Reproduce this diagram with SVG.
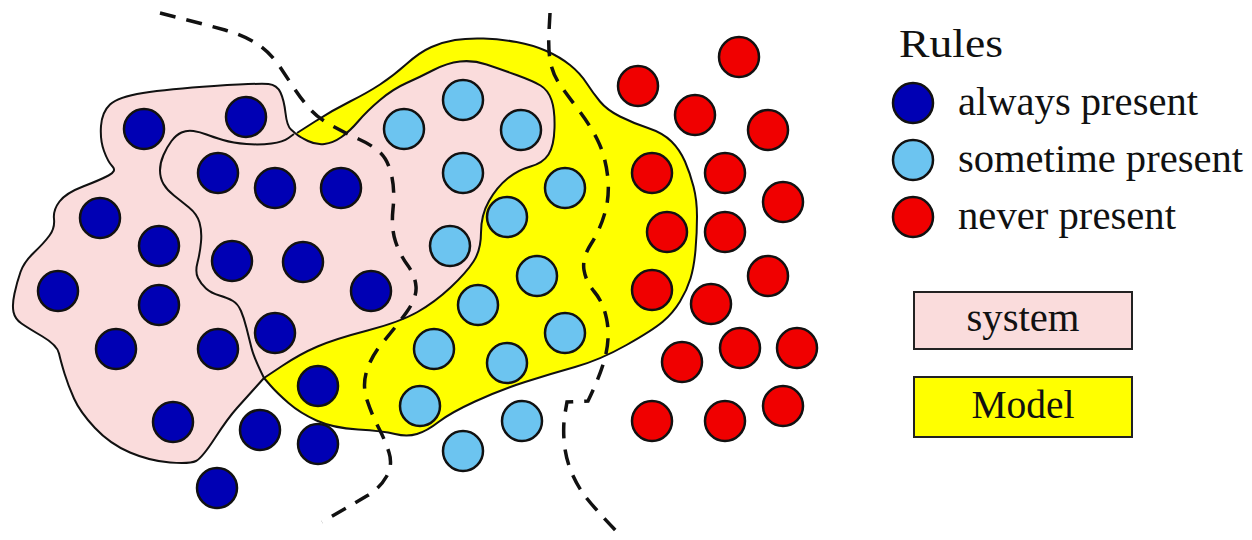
<svg xmlns="http://www.w3.org/2000/svg" width="1252" height="540" viewBox="0 0 1252 540">
<style>
.pink{fill:#fadcdc;stroke:#111;stroke-width:2;stroke-linejoin:round}
.line{fill:none;stroke:#111;stroke-width:2;stroke-linejoin:round}
.yel{fill:#ffff00;stroke:none}
.dash{fill:none;stroke:#111;stroke-width:3.5;stroke-dasharray:16 11}
.a{fill:#0000b4;stroke:#111;stroke-width:2.5}
.s{fill:#6cc4f0;stroke:#111;stroke-width:2.5}
.n{fill:#f00000;stroke:#111;stroke-width:2.5}
.t{font-family:"Liberation Serif","Times New Roman",serif;font-size:39px;fill:#111}
</style>
<g id="model-region">
<path class="yel" d="M297,133 L315,121.5 Q333,110 350,101.5 Q367,93 380,84.5 Q393,76 406.5,64 Q420,52 431.5,47 Q443,42 455,40 Q467,38 483.5,38.5 Q500,39 516.5,42 Q533,45 546.5,51 Q560,57 570,65 Q580,73 586.5,83 Q593,93 600,101.5 Q607,110 620,116.5 Q633,123 648,128 Q663,133 671.5,141.5 Q680,150 685,161.5 Q690,173 693.5,186.5 Q697,200 697,216.5 Q697,233 695.5,250 Q694,267 690.5,278.5 Q687,290 680,301.5 Q673,313 663,321.5 Q653,330 626.5,345 Q600,360 575,367 Q550,374 525,382 Q500,390 475,401.5 Q450,413 438.5,422 Q427,431 417,434 Q407,437 395,434 Q383,431 358,429.5 Q333,428 316.5,420.5 Q300,413 288.5,403 Q277,393 270.5,385.5 L264,378 L300,250 Z"/>
<path class="line" d="M297,133 L315,121.5 Q333,110 350,101.5 Q367,93 380,84.5 Q393,76 406.5,64 Q420,52 431.5,47 Q443,42 455,40 Q467,38 483.5,38.5 Q500,39 516.5,42 Q533,45 546.5,51 Q560,57 570,65 Q580,73 586.5,83 Q593,93 600,101.5 Q607,110 620,116.5 Q633,123 648,128 Q663,133 671.5,141.5 Q680,150 685,161.5 Q690,173 693.5,186.5 Q697,200 697,216.5 Q697,233 695.5,250 Q694,267 690.5,278.5 Q687,290 680,301.5 Q673,313 663,321.5 Q653,330 626.5,345 Q600,360 575,367 Q550,374 525,382 Q500,390 475,401.5 Q450,413 438.5,422 Q427,431 417,434 Q407,437 395,434 Q383,431 358,429.5 Q333,428 316.5,420.5 Q300,413 288.5,403 Q277,393 270.5,385.5 L264,378"/>
</g>
<g id="system-region">
<path class="pink" d="M295,133 L291,129.5 Q287,126 285.5,113 Q284,100 280.5,92.5 Q277,85 268.5,84 Q260,83 214,86 Q168,89 143,93 Q118,97 110,104.5 Q102,112 101,126 Q100,140 104,151 Q108,162 112.5,166.5 Q117,171 108.5,175.5 Q100,180 83,186.5 Q66,193 59.5,201.5 Q53,210 54,219 Q55,228 49.5,235.5 Q44,243 34,252.5 Q24,262 20.5,272 Q17,282 14.5,293.5 Q12,305 13.5,312 Q15,319 21.5,323.5 Q28,328 42.5,336.5 Q57,345 59,353.5 Q61,362 64.5,373.5 Q68,385 74,398.5 Q80,412 95,428 Q110,444 130,452.5 Q150,461 170,462.5 Q190,464 196,461 Q202,458 215,438 Q228,418 237,408 Q246,398 255,388 L264,378 L282,366 Q300,354 317.5,346.5 Q335,339 367.5,330.5 Q400,322 417.5,312 Q435,302 450.5,287.5 Q466,273 473.5,261.5 Q481,250 481,232.5 Q481,215 489,201 Q497,187 507.5,178.5 Q518,170 530.5,166.5 Q543,163 548.5,154.5 Q554,146 554.5,128 Q555,110 551.5,100 Q548,90 540.5,85.5 Q533,81 516.5,75 Q500,69 486.5,64.5 Q473,60 460,61.5 Q447,63 433.5,70 Q420,77 406.5,83 Q393,89 380,100 Q367,111 358.5,121 Q350,131 341.5,137 Q333,143 324.5,144 Q316,145 308,141 Q300,137 297.5,135 Z"/>
<path class="line" d="M294,134 L288.5,138 Q283,142 271.5,143.5 Q260,145 246.5,144 Q233,143 223,140 Q213,137 206.5,134.5 Q200,132 193.5,131 Q187,130 181.5,132.5 Q176,135 171.5,141 Q167,147 163.5,155 Q160,163 160,170.5 Q160,178 163.5,184 Q167,190 174,195.5 Q181,201 189,207.5 Q197,214 199.5,222.5 Q202,231 201,242 Q200,253 197.5,262.5 Q195,272 198,278 Q201,284 206,288.5 Q211,293 219.5,295.5 Q228,298 233,301 Q238,304 241,311 Q244,318 246.5,328 Q249,338 251.5,348 Q254,358 264,378"/>
</g>
<g id="always-present-rules">
<circle class="a" cx="144" cy="129" r="20"/>
<circle class="a" cx="246" cy="117" r="20"/>
<circle class="a" cx="218" cy="173" r="20"/>
<circle class="a" cx="275" cy="188" r="20"/>
<circle class="a" cx="341" cy="188" r="20"/>
<circle class="a" cx="100" cy="218" r="20"/>
<circle class="a" cx="159" cy="246" r="20"/>
<circle class="a" cx="232" cy="261" r="20"/>
<circle class="a" cx="303" cy="262" r="20"/>
<circle class="a" cx="58" cy="291" r="20"/>
<circle class="a" cx="159" cy="305" r="20"/>
<circle class="a" cx="371" cy="291" r="20"/>
<circle class="a" cx="116" cy="349" r="20"/>
<circle class="a" cx="218" cy="349" r="20"/>
<circle class="a" cx="275" cy="333" r="20"/>
<circle class="a" cx="318" cy="386" r="20"/>
<circle class="a" cx="173" cy="422" r="20"/>
<circle class="a" cx="260" cy="430" r="20"/>
<circle class="a" cx="318" cy="444" r="20"/>
<circle class="a" cx="217" cy="488" r="20"/>
</g>
<g id="sometime-present-rules">
<circle class="s" cx="463" cy="100" r="20"/>
<circle class="s" cx="404" cy="129" r="20"/>
<circle class="s" cx="521" cy="130" r="20"/>
<circle class="s" cx="463" cy="173" r="20"/>
<circle class="s" cx="565" cy="188" r="20"/>
<circle class="s" cx="507" cy="217" r="20"/>
<circle class="s" cx="450" cy="246" r="20"/>
<circle class="s" cx="537" cy="276" r="20"/>
<circle class="s" cx="478" cy="305" r="20"/>
<circle class="s" cx="565" cy="333" r="20"/>
<circle class="s" cx="434" cy="349" r="20"/>
<circle class="s" cx="507" cy="363" r="20"/>
<circle class="s" cx="420" cy="406" r="20"/>
<circle class="s" cx="522" cy="421" r="20"/>
<circle class="s" cx="463" cy="451" r="20"/>
</g>
<g id="never-present-rules">
<circle class="n" cx="739" cy="57" r="20"/>
<circle class="n" cx="638" cy="86" r="20"/>
<circle class="n" cx="695" cy="115" r="20"/>
<circle class="n" cx="768" cy="130" r="20"/>
<circle class="n" cx="652" cy="173" r="20"/>
<circle class="n" cx="725" cy="173" r="20"/>
<circle class="n" cx="783" cy="202" r="20"/>
<circle class="n" cx="667" cy="232" r="20"/>
<circle class="n" cx="725" cy="232" r="20"/>
<circle class="n" cx="768" cy="276" r="20"/>
<circle class="n" cx="652" cy="290" r="20"/>
<circle class="n" cx="711" cy="304" r="20"/>
<circle class="n" cx="740" cy="348" r="20"/>
<circle class="n" cx="797" cy="348" r="20"/>
<circle class="n" cx="682" cy="362" r="20"/>
<circle class="n" cx="652" cy="421" r="20"/>
<circle class="n" cx="725" cy="421" r="20"/>
<circle class="n" cx="783" cy="406" r="20"/>
</g>
<g id="connectors">
<path class="dash" d="M160,13 L183.5,19 Q207,25 225,30 Q243,35 256.5,43.5 Q270,52 280,67 Q290,82 296,91 Q302,100 310,109 Q318,118 331.5,125.5 Q345,133 358.5,139 Q372,145 380,152.5 Q388,160 391.5,175 Q395,190 393,209 Q391,228 395.5,241.5 Q400,255 407.5,265 Q415,275 416,286.5 Q417,298 406,313 Q395,328 383.5,341.5 Q372,355 367,370 Q362,385 367,400 Q372,415 378.5,427.5 Q385,440 389,452.5 Q393,465 386.5,476.5 Q380,488 367.5,495.5 Q355,503 322,522"/>
<path class="dash" d="M550,13 L549,31.5 Q548,50 550.5,62.5 Q553,75 560.5,85.5 Q568,96 579,110.5 Q590,125 597.5,140 Q605,155 607.5,175 Q610,195 605,212.5 Q600,230 591,244 Q582,258 584,270 Q586,282 594.5,292 Q603,302 606.5,318.5 Q610,335 606,353.5 Q602,372 588,401 L567,402 L565,413.5 Q563,425 564,440 Q565,455 570,468.5 Q575,482 583.5,494 Q592,506 622,537"/>
</g>
<g id="legend-rules">
<text class="t" x="899" y="57" textLength="104" lengthAdjust="spacingAndGlyphs">Rules</text>
</g>
<g id="legend-always">
<circle class="a" cx="913" cy="103" r="20"/>
<text class="t" x="958" y="115" textLength="240" lengthAdjust="spacingAndGlyphs">always present</text>
</g>
<g id="legend-sometime">
<circle class="s" cx="913" cy="160" r="20"/>
<text class="t" x="958" y="172" textLength="285" lengthAdjust="spacingAndGlyphs">sometime present</text>
</g>
<g id="legend-never">
<circle class="n" cx="913" cy="217" r="20"/>
<text class="t" x="958" y="229" textLength="218" lengthAdjust="spacingAndGlyphs">never present</text>
</g>
<g id="legend-system">
<rect x="914" y="292" width="218" height="57" fill="#fadcdc" stroke="#222" stroke-width="2"/>
<text class="t" x="1023" y="331" text-anchor="middle" textLength="113" lengthAdjust="spacingAndGlyphs">system</text>
</g>
<g id="legend-model">
<rect x="914" y="377" width="218" height="60" fill="#ffff00" stroke="#222" stroke-width="2"/>
<text class="t" x="1023" y="418" text-anchor="middle" textLength="103" lengthAdjust="spacingAndGlyphs">Model</text>
</g>
</svg>
